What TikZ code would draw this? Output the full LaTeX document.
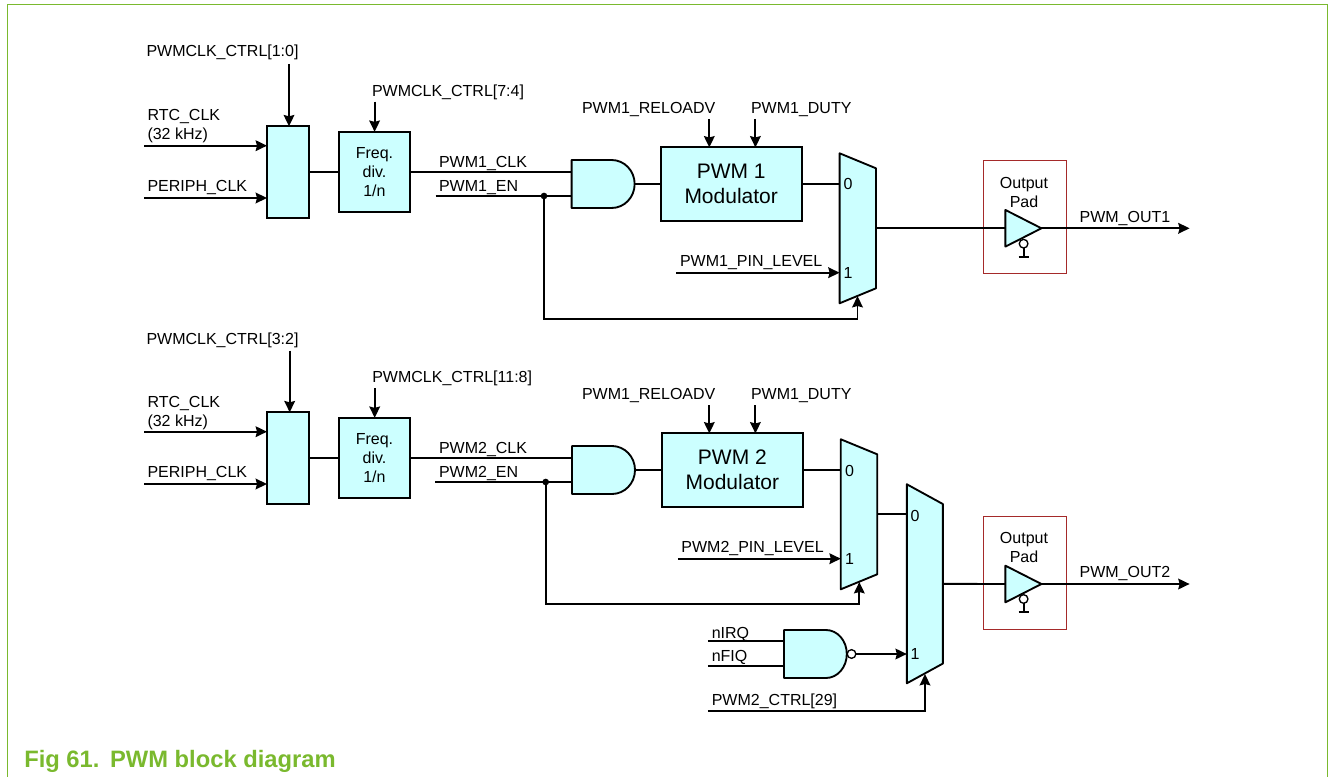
\documentclass[tikz,border=0pt]{standalone}
\usepackage{fontspec}
\setmainfont{Liberation Sans}
\usetikzlibrary{arrows.meta, positioning, shapes.geometric}
\definecolor{cellcyan}{HTML}{CCFFFF}
\definecolor{framegreen}{HTML}{7AB92E}
\definecolor{padred}{HTML}{A52A2A}
\tikzset{
  block/.style={draw, line width=1.5pt, fill=cellcyan, align=center, inner sep=0pt, outer sep=0pt,
                font=\fontsize{12}{14.25}\selectfont},
  modul/.style={block, minimum width=105.8pt, minimum height=54.8pt,
                font=\fontsize{15.75}{18.75}\selectfont},
  box/.style={inner sep=0pt, outer sep=0pt},
  outline/.style={draw, line width=1.4pt, fill=cellcyan, line join=round},
  buffer/.style={outline, isosceles triangle, isosceles triangle stretches, anchor=lower side,
                 minimum width=27.5pt, minimum height=27pt, inner sep=0pt, outer sep=0pt},
  bubble/.style={circle, draw, line width=1pt, fill=white, minimum size=6.5pt, inner sep=0pt, outer sep=0pt},
  pad/.style={draw=padred, line width=.8pt, minimum width=62.4pt, minimum height=85pt, inner sep=0pt, outer sep=0pt},
  lab/.style={anchor=west, yshift=-1.5pt, inner sep=0pt, outer sep=0pt, align=left, font=\fontsize{12}{14.25}\selectfont},
  num/.style={inner sep=0pt, outer sep=0pt, align=center, font=\fontsize{12}{14.25}\selectfont},
  wire/.style={line width=1.4pt},
  flow/.style={-{Stealth[length=8.5pt,width=8pt,inset=1pt]}, line width=1.4pt},
  dot/.style={circle, fill, minimum size=5pt, inner sep=0pt, outer sep=0pt},
}
% outlines drawn on a named box: node, flat part, curve radius
\newcommand{\gateshape}[3]{\draw[outline] (#1.north west) -- ++(#2pt,0pt)
  arc[start angle=90, end angle=-90, x radius=#3pt, y radius=18pt] -- (#1.south west) -- cycle;}
% node, slant of the narrow side
\newcommand{\muxshape}[2]{\draw[outline] (#1.north west) -- ([yshift=-#2pt]#1.north east)
  -- ([yshift=#2pt]#1.south east) -- (#1.south west) -- cycle;}
\begin{document}
\begin{tikzpicture}[x=0.75pt, y=-0.75pt]
  \useasboundingbox (0,0) rectangle (1328,777);
  \coordinate (tl) at (7.5,4.5); \coordinate (tr) at (1327.5,4.5);
  \coordinate (bl) at (7.5,777); \coordinate (br) at (1327.5,777);
  \draw[framegreen, line width=1.1pt] (bl) -- (tl) -- (tr) -- (br);
  \node (cap) [anchor=west, inner sep=0pt, text=framegreen, font=\fontsize{17.8}{20}\selectfont\bfseries] at (24,761) {Fig 61.\hspace{8pt}PWM block diagram};

  % first channel
  \node (sel1) [block, minimum width=31.5pt, minimum height=68.5pt] at (288,172) {};
  \node (freq1) [block, right=22.5pt of sel1, minimum width=53.2pt, minimum height=60.2pt] {Freq.\\div.\\1/n};
  \node (and1) [box, minimum width=47.25pt, minimum height=36pt] at (603.15,184) {};
  \node (mod1) [modul, right=19.5pt of and1] {PWM 1\\Modulator};
  \node (mux1) [box, minimum width=27.3pt, minimum height=112.5pt] at (857.8,228.3) {};
  \node (pad1) [pad] at (1024.8,217.3) {};
  \node (tri1) [buffer] at (1005.4,228.3) {};
  \node (bub1) [bubble] at (1023.6,243.7) {};
  \node (padt1) [num] at (1024,192.5) {Output\\Pad};
  \node (dot1) [dot] at (544,196) {};
  \node (lctrla) [lab] at (146.5,50.7) {PWMCLK\_CTRL[1:0]};
  \node (lctrlb) [lab] at (372,90.7) {PWMCLK\_CTRL[7:4]};
  \node (lrtc1) [lab] at (147.5,124.2) {RTC\_CLK\\(32 kHz)};
  \node (lper1) [lab] at (147.5,185.3) {PERIPH\_CLK};
  \node (lclk1) [lab] at (439,161.7) {PWM1\_CLK};
  \node (len1) [lab] at (439,185.7) {PWM1\_EN};
  \node (lrel1) [lab] at (582,108) {PWM1\_RELOADV};
  \node (lduty1) [lab] at (751,108) {PWM1\_DUTY};
  \node (lpin1) [lab] at (680,260.7) {PWM1\_PIN\_LEVEL};
  \node (lout1) [lab] at (1079.6,216.7) {PWM\_OUT1};
  \coordinate (ca1) at (289,64); \coordinate (cb1) at (374.6,101.7);
  \coordinate (rtc1) at (144,145.7); \coordinate (per1) at (144,198);
  \coordinate (en1) at (435.6,196); \coordinate (rel1) at (709.3,119); \coordinate (duty1) at (755.4,119);
  \coordinate (pin1) at (676.4,272.7); \coordinate (msel1) at (857.5,296);
  \coordinate (gnd1) at (1023.6,256.7); \coordinate (out1) at (1189.6,228.3);
  \gateshape{and1}{30}{17.25}
  \muxshape{mux1}{11.25}
  \node (zero1) [num] at (848,184) {0};
  \node (one1) [num] at (848,272.7) {1};
  \draw[flow] (ca1) -- (ca1 |- sel1.north);
  \draw[flow] (cb1) -- (cb1 |- freq1.north);
  \draw[flow] (rtc1) -- (rtc1 -| sel1.west);
  \draw[flow] (per1) -- (per1 -| sel1.west);
  \draw[wire] (sel1) -- (freq1);
  \draw[wire] (freq1.east) -- (freq1.east -| and1.west);
  \draw[wire] (en1) -- (en1 -| and1.west);
  \draw[wire] (and1) -- (mod1);
  \draw[flow] (rel1) -- (rel1 |- mod1.north);
  \draw[flow] (duty1) -- (duty1 |- mod1.north);
  \draw[wire] (mod1.east) -- (mod1.east -| mux1.west);
  \draw[flow] (pin1) -- (pin1 -| mux1.west);
  \draw[flow] (dot1) -- ++(0,122.7) -| (msel1);
  \draw[wire] (mux1) -- (tri1.lower side);
  \draw[flow] (tri1.apex) -- (out1);
  \draw[wire] (bub1) -- (gnd1) ++(-5,0) -- ++(10,0);

  % second channel
  \node (sel2) [block, minimum width=31.5pt, minimum height=68.5pt] at (288,458) {};
  \node (freq2) [block, right=22.5pt of sel2, minimum width=53.2pt, minimum height=60.2pt] {Freq.\\div.\\1/n};
  \node (and2) [box, minimum width=47.25pt, minimum height=36pt] at (603.5,470) {};
  \node (mod2) [modul, right=20.1pt of and2] {PWM 2\\Modulator};
  \node (mux2) [box, minimum width=27.3pt, minimum height=112.5pt] at (859,514.3) {};
  \node (mux3) [box, minimum width=27pt, minimum height=149.25pt] at (924.85,583.8) {};
  \node (nand1) [box, minimum width=47.1pt, minimum height=36pt] at (815.4,654) {};
  \node (nbub) [bubble, right=0.3pt of nand1] {};
  \node (pad2) [pad] at (1024.8,572.7) {};
  \node (tri2) [buffer] at (1005.4,584) {};
  \node (bub2) [bubble] at (1023.6,599) {};
  \node (padt2) [num] at (1024,547) {Output\\Pad};
  \node (dot2) [dot] at (545.7,482) {};
  \node (lctrlc) [lab] at (146.5,338.3) {PWMCLK\_CTRL[3:2]};
  \node (lctrld) [lab] at (372.3,376.7) {PWMCLK\_CTRL[11:8]};
  \node (lrtc2) [lab] at (147.5,410.7) {RTC\_CLK\\(32 kHz)};
  \node (lper2) [lab] at (147.5,471.7) {PERIPH\_CLK};
  \node (lclk2) [lab] at (439,447.3) {PWM2\_CLK};
  \node (len2) [lab] at (439,471.7) {PWM2\_EN};
  \node (lrel2) [lab] at (582,394) {PWM1\_RELOADV};
  \node (lduty2) [lab] at (751,394) {PWM1\_DUTY};
  \node (lpin2) [lab] at (681.4,546.7) {PWM2\_PIN\_LEVEL};
  \node (lout2) [lab] at (1079.6,571.7) {PWM\_OUT2};
  \node (lirq) [lab] at (711.8,632.7) {nIRQ};
  \node (lfiq) [lab] at (711.8,655.7) {nFIQ};
  \node (lctrl) [lab] at (711.8,699.3) {PWM2\_CTRL[29]};
  \coordinate (ca2) at (289.7,350.7); \coordinate (cb2) at (374.7,388);
  \coordinate (rtc2) at (144,431.7); \coordinate (per2) at (144,484);
  \coordinate (en2) at (435.3,482); \coordinate (rel2) at (709.3,405); \coordinate (duty2) at (755.4,405);
  \coordinate (pin2) at (677.9,558.7); \coordinate (msel2) at (859.3,582);
  \coordinate (gnd2) at (1023.6,612.3); \coordinate (out2) at (1189.6,584);
  \coordinate (irq) at (707.9,641.3); \coordinate (fiq) at (707.9,665.7);
  \coordinate (ctl) at (707.9,711); \coordinate (msel3) at (925,674);
  \gateshape{and2}{30}{17.25}
  \gateshape{nand1}{31.5}{15.6}
  \muxshape{mux2}{11.25}
  \muxshape{mux3}{14.8}
  \node (zero2) [num] at (849.5,470.5) {0};
  \node (one2) [num] at (849.5,558.7) {1};
  \node (zero3) [num] at (915,516) {0};
  \node (one3) [num] at (915,654) {1};
  \draw[flow] (ca2) -- (ca2 |- sel2.north);
  \draw[flow] (cb2) -- (cb2 |- freq2.north);
  \draw[flow] (rtc2) -- (rtc2 -| sel2.west);
  \draw[flow] (per2) -- (per2 -| sel2.west);
  \draw[wire] (sel2) -- (freq2);
  \draw[wire] (freq2.east) -- (freq2.east -| and2.west);
  \draw[wire] (en2) -- (en2 -| and2.west);
  \draw[wire] (and2) -- (mod2);
  \draw[flow] (rel2) -- (rel2 |- mod2.north);
  \draw[flow] (duty2) -- (duty2 |- mod2.north);
  \draw[wire] (mod2.east) -- (mod2.east -| mux2.west);
  \draw[flow] (pin2) -- (pin2 -| mux2.west);
  \draw[flow] (dot2) -- ++(0,122.3) -| (msel2);
  \draw[wire] (mux2) -- (mux2 -| mux3.west);
  \draw[wire] (mux3) -- (tri2.lower side);
  \draw[flow] (tri2.apex) -- (out2);
  \draw[wire] (bub2) -- (gnd2) ++(-5,0) -- ++(10,0);
  \draw[wire] (irq) -- (irq -| nand1.west);
  \draw[wire] (fiq) -- (fiq -| nand1.west);
  \draw[flow] (nbub.east) -- (nbub.east -| mux3.west);
  \draw[flow] (ctl) -| (msel3);
\end{tikzpicture}
\end{document}
